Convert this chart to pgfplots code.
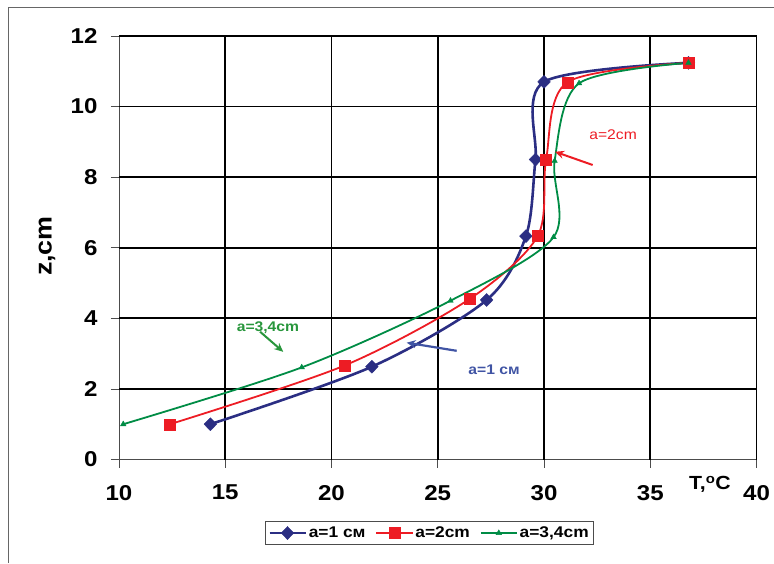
\documentclass[border=0pt]{standalone}
\usepackage{fontspec}
\setmainfont{Liberation Sans}[FakeStretch=1.12]
\usepackage{pgfplots}
\pgfplotsset{compat=1.18}
\usetikzlibrary{arrows.meta}
\definecolor{cblue}{RGB}{43,46,131}
\definecolor{cred}{RGB}{237,28,36}
\definecolor{cgreen}{RGB}{0,140,69}
\definecolor{ablue}{RGB}{64,84,164}
\definecolor{agreen}{RGB}{40,150,60}
\begin{document}
\begin{tikzpicture}
\useasboundingbox (0,0) rectangle (774pt,563pt);
\draw[black!60, line width=1pt] (8pt,0) -- (8pt,555pt) -- (774pt,555pt);
\begin{axis}[
  at={(119pt,103.5pt)}, anchor=south west, scale only axis,
  width=637.5pt, height=423.5pt,
  xmin=10, xmax=40, ymin=0, ymax=12,
  xtick={10,15,...,40}, ytick={0,2,...,12},
  axis x line*=bottom, axis y line*=left,
  axis line style={black!70, line width=0.8pt, -},
  tick align=outside, major tick length=8pt,
  tick style={black!70, line width=0.8pt},
  extra x ticks={15,20,...,40}, extra x tick labels={},
  extra y ticks={2,4,...,12}, extra y tick labels={},
  extra tick style={grid=major, major grid style={black, line width=1.7pt}, major tick length=0pt},
  ticklabel style={font=\fontsize{21.5}{21.5}\selectfont\bfseries},
  /pgf/number format/assume math mode=true,
  xticklabel style={yshift=-14pt},
  yticklabel style={xshift=-10pt},
  ylabel={z,cm},
  ylabel style={at={(axis description cs:-0.113,0.504)}, anchor=center, rotate=0, font=\fontsize{24}{24}\selectfont\bfseries},
  legend style={at={(axis description cs:0.487,-0.1736)}, anchor=center, draw=black!70, line width=0.8pt,
    font=\fontsize{15.5}{15.5}\selectfont\bfseries, inner sep=3pt},
  legend columns=3,
  legend cell align=left,
  /tikz/every even column/.append style={column sep=8pt},
  legend image code/.code={\draw[mark repeat=2,mark phase=2,#1] plot coordinates {(0pt,0pt) (18pt,0pt) (36pt,0pt)};},
  clip=false,
]
\addplot[cblue, line width=2.6pt, smooth, mark=diamond*, mark size=6.5pt, mark options={solid, xscale=1.3, line width=0.4pt, fill=cblue}] coordinates {
(14.3,1.0) (21.9,2.63) (27.3,4.52) (29.15,6.33) (29.6,8.5) (30.0,10.7) (36.8,11.24)};
\addlegendentry{a=1 см}
\addplot[cred, line width=1.8pt, smooth, mark=square*, mark size=5.5pt, mark options={solid, line width=0.4pt, fill=cred}] coordinates {
(12.4,1.0) (20.6,2.66) (26.5,4.55) (29.7,6.33) (30.1,8.5) (31.1,10.69) (36.8,11.24)};
\addlegendentry{a=2cm}
\addplot[cgreen, line width=1.8pt, smooth, mark=triangle*, mark size=3.2pt, mark options={solid, line width=0.4pt, fill=cgreen}] coordinates {
(10.2,1.0) (18.6,2.61) (25.6,4.5) (30.45,6.3) (30.5,8.46) (31.65,10.66) (36.8,11.24)};
\addlegendentry{a=3,4cm}
\draw[cred, line width=2pt, -{Stealth[length=9pt,width=8pt]}] (axis cs:32.29,8.345) -- (axis cs:30.52,8.72);
\draw[agreen, line width=2pt, -{Stealth[length=9pt,width=8pt]}] (axis cs:16.64,3.62) -- (axis cs:17.73,3.05);
\draw[ablue, line width=2.2pt, -{Stealth[length=9pt,width=8pt]}] (axis cs:25.89,3.08) -- (axis cs:23.54,3.31);
\node[cred, font=\fontsize{14}{14}\selectfont] at (axis cs:33.25,9.19) {a=2cm};
\node[agreen, font=\fontsize{14}{14}\selectfont\bfseries] at (axis cs:17.01,3.73) {a=3,4cm};
\node[ablue, font=\fontsize{14}{14}\selectfont\bfseries] at (axis cs:27.65,2.54) {a=1 см};
\node[font=\fontsize{19}{19}\selectfont\bfseries] at (axis description cs:0.927,-0.058) {T,\textsuperscript{o}C};
\end{axis}
\end{tikzpicture}
\end{document}
